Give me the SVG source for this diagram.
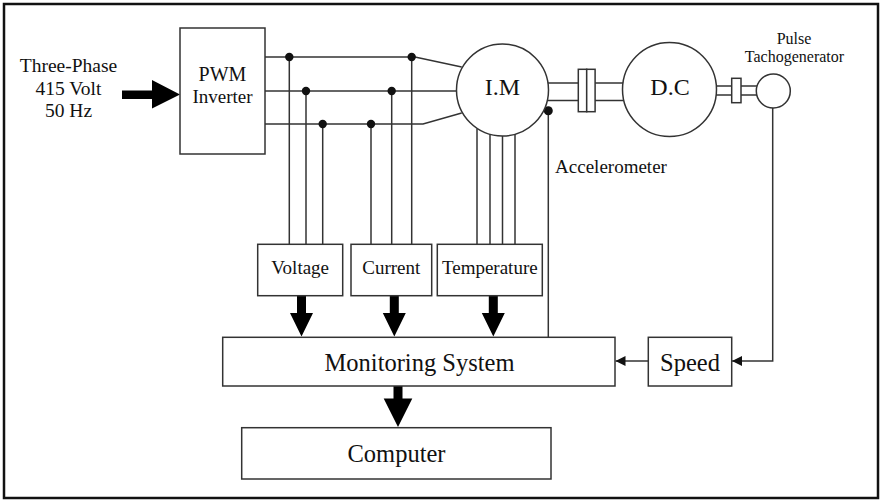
<svg xmlns="http://www.w3.org/2000/svg" width="881" height="500" viewBox="0 0 881 500">
<defs>
<style>
.ln{stroke:#333;stroke-width:1.5;fill:none}
.bx{stroke:#333;stroke-width:1.5;fill:#fff}
.t{font-family:"Liberation Serif","Times New Roman",serif;fill:#111;text-anchor:middle}
.dot{fill:#111}
.big{fill:#000}
</style>
<marker id="ah" markerWidth="10" markerHeight="10" refX="10" refY="5" orient="auto" markerUnits="userSpaceOnUse">
<path d="M0,0 L10,5 L0,10 Z" fill="#111"/>
</marker>
</defs>
<rect x="0" y="0" width="881" height="500" fill="#fff"/>
<rect x="4" y="4" width="874" height="494" fill="none" stroke="#111" stroke-width="2.5"/>

<g id="input">
<text class="t" x="68.5" y="72" font-size="19.5">Three-Phase</text>
<text class="t" x="68.5" y="94.5" font-size="19.5">415 Volt</text>
<text class="t" x="68.5" y="117" font-size="19.5">50 Hz</text>
</g>

<g id="connectors">
<!-- input arrow -->
<path class="big" d="M122,90.5 L152,90.5 L152,80 L180,94.5 L152,108.5 L152,99 L122,99 Z"/>
<!-- three-phase wires -->
<polyline class="ln" points="265,57 415,57 461.7,67"/>
<line class="ln" x1="265" y1="91" x2="456.5" y2="91"/>
<polyline class="ln" points="265,124 423,124 461.7,113"/>
<!-- voltage taps -->
<line class="ln" x1="289.3" y1="57" x2="289.3" y2="244.3"/>
<line class="ln" x1="306" y1="91" x2="306" y2="244.3"/>
<line class="ln" x1="322.7" y1="124" x2="322.7" y2="244.3"/>
<!-- current taps -->
<line class="ln" x1="371" y1="124" x2="371" y2="244.3"/>
<line class="ln" x1="391.7" y1="91" x2="391.7" y2="244.3"/>
<line class="ln" x1="411.7" y1="57" x2="411.7" y2="244.3"/>
<circle class="dot" cx="289.3" cy="57" r="4.2"/>
<circle class="dot" cx="411.7" cy="57" r="4.2"/>
<circle class="dot" cx="306" cy="91" r="4.2"/>
<circle class="dot" cx="391.7" cy="91" r="4.2"/>
<circle class="dot" cx="322.7" cy="124" r="4.2"/>
<circle class="dot" cx="371" cy="124" r="4.2"/>
<!-- temperature leads -->
<line class="ln" x1="477" y1="128.7" x2="477" y2="244.3"/>
<line class="ln" x1="490" y1="134.3" x2="490" y2="244.3"/>
<line class="ln" x1="502.5" y1="136" x2="502.5" y2="244.3"/>
<line class="ln" x1="515" y1="134.3" x2="515" y2="244.3"/>
<!-- accelerometer -->
<line class="ln" x1="548.3" y1="110.7" x2="548.3" y2="337.3"/>
<circle class="dot" cx="548.3" cy="110.7" r="4.5"/>
<!-- shafts -->
<line class="ln" x1="547" y1="83" x2="578.3" y2="83"/>
<line class="ln" x1="547" y1="100.5" x2="578.3" y2="100.5"/>
<line class="ln" x1="595" y1="83" x2="624" y2="83"/>
<line class="ln" x1="595" y1="100.5" x2="624" y2="100.5"/>
<rect class="bx" x="578.3" y="69.3" width="8.4" height="42.4"/>
<rect class="bx" x="586.7" y="69.3" width="8.4" height="42.4"/>
<line class="ln" x1="716" y1="86" x2="757" y2="86"/>
<line class="ln" x1="716" y1="95" x2="757" y2="95"/>
<rect class="bx" x="731.7" y="78.3" width="9.3" height="24.4"/>
<!-- tacho to speed -->
<polyline class="ln" points="772.7,108 772.7,361 732,361" marker-end="url(#ah)"/>
<!-- speed to monitoring -->
<line class="ln" x1="648.3" y1="361" x2="615.5" y2="361" marker-end="url(#ah)"/>
<!-- thick arrows -->
<path class="big" d="M297,295.5 L306,295.5 L306,313 L313,313 L301.5,336.5 L290,313 L297,313 Z"/>
<path class="big" d="M389.8,295.5 L398.8,295.5 L398.8,313 L405.8,313 L394.3,336.5 L382.8,313 L389.8,313 Z"/>
<path class="big" d="M488.8,295.5 L497.8,295.5 L497.8,313 L504.8,313 L493.3,336.5 L481.8,313 L488.8,313 Z"/>
<path class="big" d="M393.5,386 L402.5,386 L402.5,398.5 L412.3,398.5 L398,427 L383.7,398.5 L393.5,398.5 Z"/>
</g>

<g id="pwm">
<rect class="bx" x="180" y="28" width="85" height="126"/>
<text class="t" x="222.5" y="81" font-size="20">PWM</text>
<text class="t" x="222.5" y="103" font-size="19">Inverter</text>
</g>

<g id="im">
<circle class="bx" cx="502.5" cy="90" r="46"/>
<text class="t" x="502.5" y="95" font-size="24">I.M</text>
</g>

<g id="dc">
<circle class="bx" cx="669.5" cy="89.5" r="47"/>
<text class="t" x="670" y="95" font-size="24">D.C</text>
</g>

<g id="tacho">
<circle class="bx" cx="773.3" cy="91" r="17"/>
<text class="t" x="794" y="44" font-size="16">Pulse</text>
<text class="t" x="794.5" y="62" font-size="16">Tachogenerator</text>
</g>

<g id="accel-label">
<text class="t" x="611" y="172.7" font-size="19">Accelerometer</text>
</g>

<g id="voltage">
<rect class="bx" x="257.7" y="244.3" width="85" height="51.4"/>
<text class="t" x="300.2" y="274" font-size="19">Voltage</text>
</g>

<g id="current">
<rect class="bx" x="351" y="244.3" width="80.7" height="51.4"/>
<text class="t" x="391.3" y="274" font-size="19">Current</text>
</g>

<g id="temperature">
<rect class="bx" x="437.3" y="244.3" width="105" height="51.4"/>
<text class="t" x="489.8" y="274" font-size="19">Temperature</text>
</g>

<g id="monitoring">
<rect class="bx" x="222.7" y="337.3" width="392.3" height="48.7"/>
<text class="t" x="419.5" y="371" font-size="24.5">Monitoring System</text>
</g>

<g id="speed">
<rect class="bx" x="648.3" y="337.3" width="83.4" height="48.7"/>
<text class="t" x="690" y="371" font-size="24.5">Speed</text>
</g>

<g id="computer">
<rect class="bx" x="241.7" y="427.7" width="309.3" height="51.3"/>
<text class="t" x="396.5" y="462" font-size="24.5">Computer</text>
</g>
</svg>
